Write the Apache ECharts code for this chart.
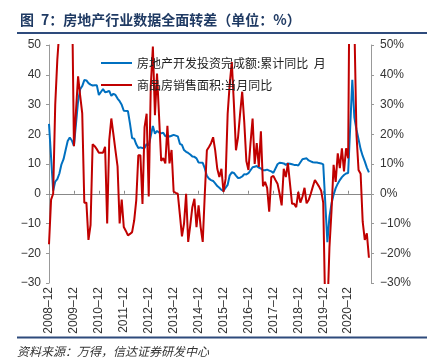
<!DOCTYPE html>
<html>
<head>
<meta charset="utf-8">
<script src="https://cdn.jsdelivr.net/npm/echarts@6/dist/echarts.min.js"></script>
<style>
html, body { margin: 0; padding: 0; background: #fff; }
#main { width: 432px; height: 364px; }
</style>
</head>
<body>
<div id="main"></div>
<script>
// 月份：2008-12 ~ 2021-11（最后一个留空）
var months = [];
for (var y = 2008; y <= 2021; y++) {
    for (var m = 1; m <= 12; m++) {
        if (y == 2008 && m < 12) continue;
        if (y == 2021 && m > 11) continue;
        months.push(y + '-' + (m < 10 ? '0' + m : m));
    }
}

// 房地产开发投资完成额:累计同比（1月无数据）
var investYoy = [23.5,
    null, 1.0, 4.1, 4.9, 6.8, 9.9, 11.6, 14.7, 17.7, 18.9, 17.9, 16.1,
    null, 31.1, 35.1, 36.2, 38.2, 38.1, 37.2, 36.7, 36.4, 36.5, 36.5, 33.2,
    null, 35.2, 34.1, 34.3, 34.6, 32.9, 33.6, 33.2, 32.0, 31.1, 29.9, 27.9,
    null, 27.8, 23.5, 18.7, 18.5, 16.6, 15.4, 15.6, 15.4, 15.4, 16.7, 16.2,
    null, 22.8, 20.2, 21.1, 20.6, 20.3, 20.5, 19.3, 19.7, 19.2, 19.5, 19.8,
    null, 19.3, 16.8, 16.4, 14.7, 14.1, 13.7, 13.2, 12.5, 12.4, 11.9, 10.5,
    null, 10.4, 8.5, 6.0, 5.1, 4.6, 4.3, 3.5, 2.6, 2.0, 1.3, 1.0,
    null, 3.0, 6.2, 7.2, 7.0, 6.1, 5.3, 5.4, 5.8, 6.6, 6.5, 6.9,
    null, 8.9, 9.1, 9.3, 8.8, 8.5, 7.9, 7.9, 8.1, 7.8, 7.5, 7.0,
    null, 9.9, 10.4, 10.3, 10.2, 9.7, 10.2, 10.1, 9.9, 9.7, 9.7, 9.5,
    null, 11.6, 11.8, 11.9, 11.2, 10.9, 10.6, 10.5, 10.5, 10.3, 10.2, 9.9,
    null, -16.3, -7.7, -3.3, -0.3, 1.9, 3.4, 4.6, 5.6, 6.3, 6.8, 7.0,
    null, 38.3, 25.6, 21.6, 18.3, 15.0, 12.7, 10.9, 8.8, 7.2];

// 商品房销售面积:当月同比
var salesYoy = [-17,
    -2, 0, 30, 45, 55, 70, 75, 65, 80, 75, 72, 16,
    28, 39.5, 33, 27, -3, -3, -15.5, -10.5, 16.6, 16, 15, 13.8,
    13.8, 13.8, 15.8, -10, 18, 25.3, 20, 14.5, 9.2, -10, -2, -11.2,
    -12.5, -14, -13.5, -12.9, -9, -2.2, 12.9, 12.9, -3.4, 22.4, 26.9, -0.9,
    36.4, 49.5, 26.4, 40.4, 25.7, 11, 12, 10.2, 22.8, 10.2, 14.7, 0.7,
    0.3, 0, -7, -14.3, -10, 0, -16.2, -10.6, -4.5, -1.7, -11.2, -3.9,
    -11.2, -16.2, 0, 14.6, 15.7, 17, 19, 14.6, 8.4, 5.6, 8.4, 0.6,
    5, 26.9, 37, 44.3, 30.3, 14.6, 19, 27, 34.3, 24, 11, 8,
    17, 25.3, 10, 17, 9, 21, 2.5, 4, 2, -6, 5.6, 6,
    4.6, 3.4, 0, -3.9, 8.4, 5.6, 10.3, 3.4, -3.4, -3.4, -4.5, 0.6,
    -3, -1, 2, -3.2, -2.1, 0, 2.4, 4.6, 3.5, 2.4, 1, -3,
    -40, -40, -18, -5.6, 9.7, 4, 13.6, 8.6, 15.3, 7.5, 15.3, 11.9,
    105, 105, 57, 20, 8, 6.7, -9.4, -15.5, -13.3, -21.5];

var axisFont = 'Liberation Sans, Arial, sans-serif';
var cjkFont = 'Noto Sans CJK SC, sans-serif';

function minus(v) {
    return String(v).replace('-', '\u2212');
}

var chart = echarts.init(document.getElementById('main'));
var option = {
    backgroundColor: '#fff',
    animation: false,
    title: {
        text: '图\u20027：房地产行业数据全面转差（单位：%）',
        left: 15,
        top: 8,
        textStyle: {
            fontFamily: cjkFont,
            fontSize: 14,
            fontWeight: 'bold',
            color: '#1F3A63'
        }
    },
    graphic: [
        {
            type: 'line',
            shape: { x1: 17, y1: 33, x2: 427, y2: 33 },
            style: { stroke: '#2E4B7C', lineWidth: 2 }
        },
        {
            type: 'line',
            shape: { x1: 17, y1: 337.5, x2: 427, y2: 337.5 },
            style: { stroke: '#2E4B7C', lineWidth: 2 }
        },
        {
            type: 'text',
            left: 17,
            top: 345,
            style: {
                text: '资料来源：万得，信达证券研发中心',
                font: 'italic 12px Noto Sans CJK SC',
                fill: '#333'
            }
        }
    ],
    legend: {
        orient: 'vertical',
        left: 95,
        top: 52,
        itemWidth: 31,
        itemHeight: 14,
        itemGap: 10,
        itemStyle: { opacity: 0 },
        textStyle: { fontFamily: cjkFont, fontSize: 12, color: '#222' },
        data: ['房地产开发投资完成额:累计同比  月', '商品房销售面积:当月同比']
    },
    grid: {
        left: 49,
        right: 61,
        top: 45,
        bottom: 81,
        containLabel: false
    },
    xAxis: [
        {
            type: 'category',
            data: months,
            boundaryGap: false,
            position: 'bottom',
            axisLine: { show: false, onZero: false },
            axisTick: { show: false },
            axisLabel: {
                interval: 11,
                rotate: 90,
                margin: 4,
                fontFamily: axisFont,
                fontSize: 12,
                color: '#333',
                formatter: function (v) { return v.replace('-', '\u2013'); }
            },
            splitLine: { show: false }
        },
        {
            type: 'category',
            data: months,
            boundaryGap: false,
            position: 'bottom',
            axisLine: { show: true, onZero: true, lineStyle: { color: '#888', width: 1 } },
            axisTick: { show: true, interval: 11, inside: true, length: 3, lineStyle: { color: '#888' } },
            axisLabel: { show: false },
            splitLine: { show: false }
        }
    ],
    yAxis: [
        {
            type: 'value',
            position: 'left',
            min: -30,
            max: 50,
            interval: 10,
            axisLine: { show: true, onZero: false, lineStyle: { color: '#999' } },
            axisTick: { show: true, length: 3, lineStyle: { color: '#999' } },
            axisLabel: { margin: 8, fontFamily: axisFont, fontSize: 12, color: '#333', formatter: minus },
            splitLine: { show: false }
        },
        {
            type: 'value',
            position: 'right',
            min: -30,
            max: 50,
            interval: 10,
            axisLine: { show: true, onZero: false, lineStyle: { color: '#999' } },
            axisTick: { show: true, length: 3, lineStyle: { color: '#999' } },
            axisLabel: {
                margin: 9, fontFamily: axisFont, fontSize: 12, color: '#333',
                formatter: function (v) { return minus(v) + '%'; }
            },
            splitLine: { show: false }
        }
    ],
    series: [
        {
            name: '房地产开发投资完成额:累计同比  月',
            type: 'line',
            xAxisIndex: 0,
            yAxisIndex: 0,
            data: investYoy,
            connectNulls: true,
            symbol: 'none',
            clip: true,
            lineStyle: { color: '#0070C0', width: 2 },
            itemStyle: { color: '#0070C0' }
        },
        {
            name: '商品房销售面积:当月同比',
            type: 'line',
            xAxisIndex: 0,
            yAxisIndex: 1,
            data: salesYoy,
            symbol: 'none',
            clip: true,
            lineStyle: { color: '#C00000', width: 2 },
            itemStyle: { color: '#C00000' }
        }
    ]
};
chart.setOption(option);
</script>
</body>
</html>
